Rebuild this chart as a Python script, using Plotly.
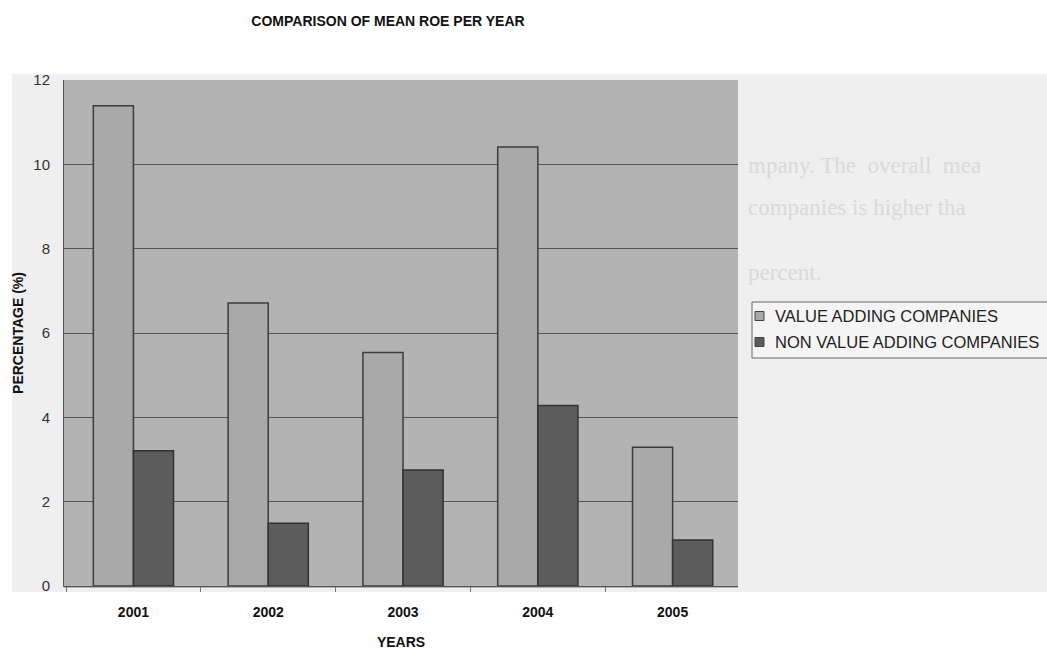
import plotly.graph_objects as go

years = ["2001", "2002", "2003", "2004", "2005"]
value_adding = [11.39, 6.71, 5.54, 10.41, 3.29]
non_value_adding = [3.21, 1.49, 2.75, 4.28, 1.09]
y_ticks = [0, 2, 4, 6, 8, 10, 12]
series_names = ["VALUE ADDING COMPANIES", "NON VALUE ADDING COMPANIES"]
series_colors = ["#a9a9a9", "#5c5c5c"]

W, H = 1047, 650
L, R, T, B = 64, 1047 - 738, 80, 650 - 586
PW, PH = W - L - R, H - T - B


def px_x(p):
    return (p - L) / PW


def px_y(p):
    return (H - B - p) / PH


fig = go.Figure()
for name, vals, col, lc in zip(series_names, [value_adding, non_value_adding],
                               series_colors, ["#3c3c3c", "#333333"]):
    fig.add_trace(go.Bar(
        name=name, x=years, y=vals,
        marker=dict(color=col, line=dict(color=lc, width=1.5)),
    ))

# light scanned page region
fig.add_shape(type="rect", xref="paper", yref="paper",
              x0=px_x(12), x1=px_x(W), y0=px_y(592), y1=px_y(74),
              fillcolor="#efefef", line=dict(width=0), layer="below")
# plot area grey
fig.add_shape(type="rect", xref="paper", yref="paper",
              x0=0, x1=1, y0=px_y(588), y1=1,
              fillcolor="#b3b3b3", line=dict(width=0), layer="below")

ghost = [("mpany. The  overall  mea", 165), ("companies is higher tha", 207), ("percent.", 272)]
for txt, yp in ghost:
    fig.add_annotation(text=txt, xref="paper", yref="paper",
                       x=px_x(746), y=px_y(yp),
                       xanchor="left", yanchor="middle", showarrow=False,
                       font=dict(family="Liberation Serif", size=23, color="#dadada"))

# legend drawn by hand (box clipped at right edge as in the reference)
fig.add_shape(type="rect", xref="paper", yref="paper",
              x0=px_x(752), x1=px_x(W + 20), y0=px_y(358), y1=px_y(302),
              fillcolor="#f4f4f4", line=dict(color="#666666", width=1), layer="above")
for i, (name, col) in enumerate(zip(series_names, series_colors)):
    cy = 316 + i * 26
    fig.add_shape(type="rect", xref="paper", yref="paper",
                  x0=px_x(755), x1=px_x(764), y0=px_y(cy + 4.5), y1=px_y(cy - 4.5),
                  fillcolor=col, line=dict(color="#444444", width=1), layer="above")
    fig.add_annotation(text=name, xref="paper", yref="paper",
                       x=px_x(773), y=px_y(cy), xanchor="left", yanchor="middle",
                       showarrow=False,
                       font=dict(family="Liberation Sans", size=16.5, color="#222222"))

fig.update_layout(
    width=W, height=H,
    margin=dict(l=L, r=R, t=T, b=B),
    paper_bgcolor="white",
    plot_bgcolor="rgba(0,0,0,0)",
    barmode="group",
    bargap=0.405,
    bargroupgap=0,
    title=dict(text="<b>COMPARISON OF MEAN ROE PER YEAR</b>", x=388 / W, xanchor="center",
               y=1 - 21 / H, yanchor="middle",
               font=dict(family="Liberation Sans", size=14, color="#111111")),
    font=dict(family="Liberation Sans", color="#222222"),
    showlegend=False,
)

fig.update_xaxes(
    type="category", range=[-0.515, 4.485], automargin=False,
    showline=True, linecolor="#555555", linewidth=1,
    ticks="outside", tickson="boundaries", ticklen=5, tickcolor="#777777",
    tickfont=dict(family="Liberation Sans", size=14, color="#111111"),
    tickvals=years, ticktext=["<b>%s</b>" % y for y in years],
    ticklabelstandoff=13,
    title=dict(text="<b>YEARS</b>", standoff=18,
               font=dict(family="Liberation Sans", size=14, color="#111111")),
    showgrid=False,
)
fig.update_yaxes(
    range=[0, 12], tickvals=y_ticks, automargin=False,
    showline=True, linecolor="#555555", linewidth=1,
    showgrid=True, gridcolor="#555555", gridwidth=1,
    ticks="", ticklabelstandoff=10,
    tickfont=dict(family="Liberation Sans", size=15, color="#333333"),
    title=dict(text="<b>PERCENTAGE (%)</b>", standoff=6,
               font=dict(family="Liberation Sans", size=14, color="#111111")),
    zeroline=False,
)

fig.write_html("out.html")
